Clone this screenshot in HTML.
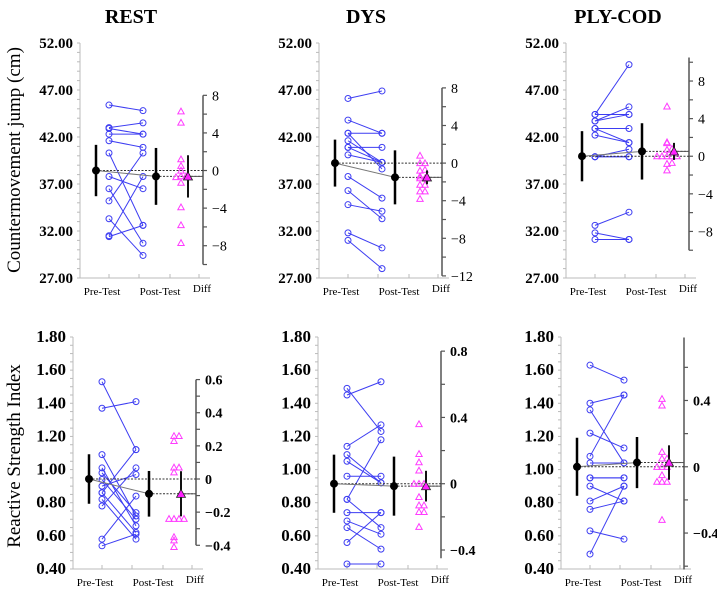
<!DOCTYPE html>
<html><head><meta charset="utf-8"><style>
html,body{margin:0;padding:0;background:#fff;}
svg{display:block;}
text{font-family:"Liberation Serif",serif;}
</style></head><body>
<svg id="chart" width="717" height="594" viewBox="0 0 717 594" xmlns="http://www.w3.org/2000/svg">
<text x="131" y="23" text-anchor="middle" font-size="20" font-weight="bold">REST</text>
<text x="366" y="23" text-anchor="middle" font-size="20" font-weight="bold">DYS</text>
<text x="618" y="23" text-anchor="middle" font-size="20" font-weight="bold">PLY-COD</text>
<text transform="translate(20,160) rotate(-90)" text-anchor="middle" font-size="19">Countermovement jump (cm)</text>
<text transform="translate(20,456) rotate(-90)" text-anchor="middle" font-size="19">Reactive Strength Index</text>
</svg>
<script>
// ---- data (pre/post paired values) ----
const cmjRestPre  = [45.4,43.0,42.9,42.3,41.6,40.3,37.8,36.5,35.2,33.3,31.4,31.5];
const cmjRestPost = [44.8,43.5,42.3,42.3,40.9,32.6,36.5,30.7,40.3,29.4,32.6,37.8];
const cmjDysPre   = [46.1,43.8,42.4,42.4,41.6,40.9,40.9,40.1,37.8,36.3,34.8,31.8,31.0];
const cmjDysPost  = [46.9,42.4,42.4,38.6,39.3,40.9,39.3,39.3,35.5,33.3,34.1,30.2,28.0];
const cmjPlyPre   = [44.4,44.4,43.7,43.7,42.9,42.9,42.2,39.9,39.9,39.9,32.6,31.8,31.1];
const cmjPlyPost  = [49.7,44.4,45.2,44.4,41.4,42.9,41.4,39.9,40.7,39.9,34.0,31.1,31.1];
const rsiRestPre  = [1.53,1.37,1.09,1.01,0.98,0.94,0.86,0.86,0.82,0.78,0.58,0.54,0.90];
const rsiRestPost = [1.12,1.41,0.72,0.66,0.74,0.70,0.62,1.12,0.58,1.01,0.84,0.61,0.97];
const rsiDysPre   = [1.49,1.45,1.14,1.09,1.05,0.96,0.82,0.82,0.74,0.69,0.65,0.56,0.43];
const rsiDysPost  = [1.23,1.53,1.27,0.92,0.92,0.96,1.18,0.65,0.74,0.61,0.52,0.74,0.43];
const rsiPlyPre   = [1.63,1.40,1.36,1.22,1.08,1.04,0.95,0.95,0.90,0.81,0.76,0.63,0.49];
const rsiPlyPost  = [1.54,1.45,1.04,1.13,1.45,1.04,0.95,0.95,0.81,0.90,0.81,0.58,0.90];
// tick labels
const cmjTicks = [52,47,42,37,32,27];
const rsiTicks = [1.8,1.6,1.4,1.2,1.0,0.8,0.6,0.4];
const xLabels = ["Pre-Test","Post-Test","Diff"];

const NS="http://www.w3.org/2000/svg";
const svg=document.getElementById('chart');
function mk(tag,attrs,parent){const e=document.createElementNS(NS,tag);for(const k in attrs)e.setAttribute(k,attrs[k]);(parent||svg).appendChild(e);return e;}
function mean(a){return a.reduce((s,v)=>s+v,0)/a.length;}
function ci(a){const m=mean(a);const sd=Math.sqrt(a.reduce((s,v)=>s+(v-m)*(v-m),0)/(a.length-1));return 1.96*sd/Math.sqrt(a.length);}

function panel(c){
  const g=mk('g',{});
  
  
  const y=v=>c.yBot-(v-c.vBot)/(c.vTop-c.vBot)*(c.yBot-c.yTop);
  const ax=c.ax;
  const X={pre:ax+29,post:ax+63,pm:ax+16,qm:ax+76,d:ax+101,dm:ax+108,r:ax+123};
  const la=mk('line',{x1:ax,y1:c.yTop,x2:ax,y2:c.yBot,stroke:'#bbb','stroke-width':1},g);
  
  
  const nMinor=Math.round((c.vTop-c.vBot)/c.minor);
  for(let k=0;k<=nMinor;k++){
    const v=c.vBot+k*c.minor;
    mk('line',{x1:ax-3,y1:y(v),x2:ax,y2:y(v),stroke:'#bbb','stroke-width':1},g);
  }
  c.ticks.forEach(t=>{
    const tx=mk('text',{x:ax-7,y:y(t)+5,'text-anchor':'end','font-size':c.tfs,'font-weight':'bold'},g);
    tx.textContent=t.toFixed(2);
    
    
  });
  const xa=mk('line',{x1:ax,y1:c.yBot,x2:ax+130,y2:c.yBot,stroke:'#bbb','stroke-width':1},g);
  
  
  [0,29,59,90,119].forEach(o=>mk('line',{x1:ax+o,y1:c.yBot-4,x2:ax+o,y2:c.yBot,stroke:'#bbb'},g));
  [[ax+22,17],[ax+80,17],[ax+122,14]].forEach((p,i)=>{
    const tx=mk('text',{x:p[0],y:c.yBot+p[1],'text-anchor':'middle','font-size':11},g);
    tx.textContent=xLabels[i];
    
    
  });
  const pm=mean(c.pre), qm=mean(c.post);
  const diffs=c.pre.map((v,i)=>c.post[i]-v);
  const dmean=mean(diffs);
  const yd=d=>y(pm+d);
  const ra=mk('line',{x1:X.r,y1:yd(c.dTop),x2:X.r,y2:yd(c.dBot),stroke:'#555','stroke-width':1.5},g);
  
  
  const dStart=Math.ceil(c.dBot/c.dStep-1e-9), dEnd=Math.floor(c.dTop/c.dStep+1e-9);
  for(let k=dStart;k<=dEnd;k++){
    const d=k*c.dStep;
    mk('line',{x1:X.r,y1:yd(d),x2:X.r+4,y2:yd(d),stroke:'#555','stroke-width':1.2},g);
  }
  c.dLabels.forEach(d=>{
    const tx=mk('text',{x:X.r+9,y:yd(d)+5,'font-size':c.dfs,'font-weight':c.dbold?'bold':'normal'},g);
    tx.textContent=d===0?'0':(d<0?'\u2212':'')+Math.abs(d).toFixed(c.ddec);
    
    
  });
  c.pre.forEach((v,i)=>{
    const l=mk('line',{x1:X.pre,y1:y(v),x2:X.post,y2:y(c.post[i]),stroke:'#3d3df2','stroke-width':1},g);
    
    
  });
  c.pre.forEach((v,i)=>{
    const a=mk('circle',{cx:X.pre,cy:y(v),r:3,fill:'none',stroke:'#3d3df2','stroke-width':1},g);
    
    
    const b=mk('circle',{cx:X.post,cy:y(c.post[i]),r:3,fill:'none',stroke:'#3d3df2','stroke-width':1},g);
    
    
  });
  mk('line',{x1:X.pm,y1:y(pm),x2:X.r,y2:y(pm),stroke:'#333','stroke-width':1,'stroke-dasharray':'2,1.5'},g);
  mk('line',{x1:X.qm,y1:y(qm),x2:X.r,y2:y(qm),stroke:'#333','stroke-width':1,'stroke-dasharray':'2,1.5'},g);
  mk('line',{x1:X.pm,y1:y(pm),x2:X.qm,y2:y(qm),stroke:'#777','stroke-width':1},g);
  mk('line',{x1:X.dm,y1:yd(dmean),x2:X.r,y2:yd(dmean),stroke:'#555','stroke-width':1},g);
  [[X.pm,pm,ci(c.pre),'pre-mean'],[X.qm,qm,ci(c.post),'post-mean']].forEach(p=>{
    const l=mk('line',{x1:p[0],y1:y(p[1]-p[2]),x2:p[0],y2:y(p[1]+p[2]),stroke:'#000','stroke-width':2.5},g);
    
    
    const d=mk('circle',{cx:p[0],cy:y(p[1]),r:4,fill:'#000'},g);
    
    
  });
  const used={};
  const tri=(cx,cy,s)=>`${cx},${cy-s} ${cx-s},${cy+s*0.8} ${cx+s},${cy+s*0.8}`;
  diffs.forEach(d=>{
    const py=yd(d);const key=Math.round(py/5);
    const n=used[key]||0;used[key]=n+1;
    const off=n===0?0:(n%2?1:-1)*Math.ceil(n/2)*5;
    const t=mk('polygon',{points:tri(X.d+off,py,3.2),fill:'none',stroke:'#ff3cff','stroke-width':1},g);
    
    
  });
  const dci=ci(diffs);
  const dl=mk('line',{x1:X.dm,y1:yd(dmean-dci),x2:X.dm,y2:yd(dmean+dci),stroke:'#111','stroke-width':2},g);
  
  
  const dt=mk('polygon',{points:tri(X.dm,yd(dmean),4.5),fill:'#ff20ff',stroke:'#222','stroke-width':0.8},g);
  
  
}
const topCfg={yTop:43,yBot:278,vTop:52,vBot:27,minor:1,ticks:cmjTicks,tfs:15};
const botCfg={yTop:337,yBot:569,vTop:1.8,vBot:0.4,minor:0.05,ticks:rsiTicks,tfs:17};
panel(Object.assign({name:'panel-rest-cmj',ax:80,pre:cmjRestPre,post:cmjRestPost,dTop:8,dBot:-10,dStep:2,dLabels:[8,4,0,-4,-8],ddec:0,dfs:14,dbold:false},topCfg));
panel(Object.assign({name:'panel-dys-cmj',ax:319,pre:cmjDysPre,post:cmjDysPost,dTop:8,dBot:-12,dStep:2,dLabels:[8,4,0,-4,-8,-12],ddec:0,dfs:14,dbold:false},topCfg));
panel(Object.assign({name:'panel-plycod-cmj',ax:566,pre:cmjPlyPre,post:cmjPlyPost,dTop:10.5,dBot:-10,dStep:2,dLabels:[8,4,0,-4,-8],ddec:0,dfs:14,dbold:false},topCfg));
panel(Object.assign({name:'panel-rest-rsi',ax:73,pre:rsiRestPre,post:rsiRestPost,dTop:0.6,dBot:-0.4,dStep:0.1,dLabels:[0.6,0.4,0.2,0,-0.2,-0.4],ddec:1,dfs:14,dbold:true},botCfg));
panel(Object.assign({name:'panel-dys-rsi',ax:318,pre:rsiDysPre,post:rsiDysPost,dTop:0.8,dBot:-0.45,dStep:0.2,dLabels:[0.8,0.4,0,-0.4],ddec:1,dfs:14,dbold:true},botCfg));
panel(Object.assign({name:'panel-plycod-rsi',ax:561,pre:rsiPlyPre,post:rsiPlyPost,dTop:0.78,dBot:-0.62,dStep:0.2,dLabels:[0.4,0,-0.4],ddec:1,dfs:14,dbold:true},botCfg));
</script>
</body></html>
